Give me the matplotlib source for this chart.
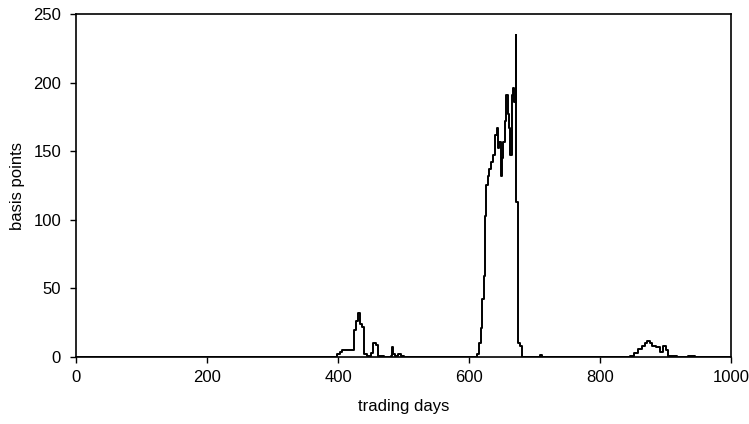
import matplotlib
matplotlib.use("Agg")
import matplotlib.pyplot as plt

plt.rcParams['font.family'] = ['Liberation Sans', 'DejaVu Sans']

# breakpoints of the step series (trading day, basis points)
days = [0, 398, 402, 406, 412, 424, 427, 430, 433, 436, 440, 444, 450, 453, 457, 460,
        470, 480, 482, 484, 487, 492, 496, 500,
        612, 615, 618, 620, 622, 624, 626, 628, 631, 634, 637, 640, 642, 644, 646, 648,
        650, 652, 655, 657, 659, 661, 663, 665, 667, 669, 671, 672, 675, 678, 681,
        708, 711,
        845, 852, 858, 864, 868, 872, 876, 880, 886, 892, 896, 900, 903, 912, 918,
        935, 945, 1000]
values = [0, 2, 4, 5, 5, 20, 26, 32, 24, 22, 2, 1, 3, 10, 9, 1,
          0, 1, 7, 2, 1, 2, 1, 0,
          2, 10, 21, 42, 59, 103, 125, 132, 137, 142, 147, 162, 167, 152, 157, 132,
          145, 157, 172, 191, 177, 167, 147, 191, 196, 186, 235, 113, 10, 8, 0,
          1.5, 0,
          1, 3, 6, 8, 10, 12, 10, 8, 7, 4, 8, 5, 1, 1, 0,
          1, 0, 0]

x_ticks = [0, 200, 400, 600, 800, 1000]
y_ticks = [0, 50, 100, 150, 200, 250]

fig = plt.figure(figsize=(7.49, 4.24), dpi=100)
ax = fig.add_axes([0.102, 0.158, 0.874, 0.809])
ax.plot(days, values, drawstyle='steps-post', color='black', lw=1.4)
ax.set_xlim(0, 1000)
ax.set_ylim(0, 250)
ax.set_xticks(x_ticks)
ax.set_yticks(y_ticks)
ax.tick_params(direction='out', length=4, width=1, labelsize=12, colors='black')
ax.tick_params(axis='x', pad=5.5)
ax.tick_params(axis='y', pad=7)
for s in ax.spines.values():
    s.set_linewidth(1.2)
ax.set_xlabel('trading days', fontsize=12, labelpad=10)
ax.set_ylabel('basis points', fontsize=12, labelpad=6)
fig.savefig('out.png', dpi=100)
